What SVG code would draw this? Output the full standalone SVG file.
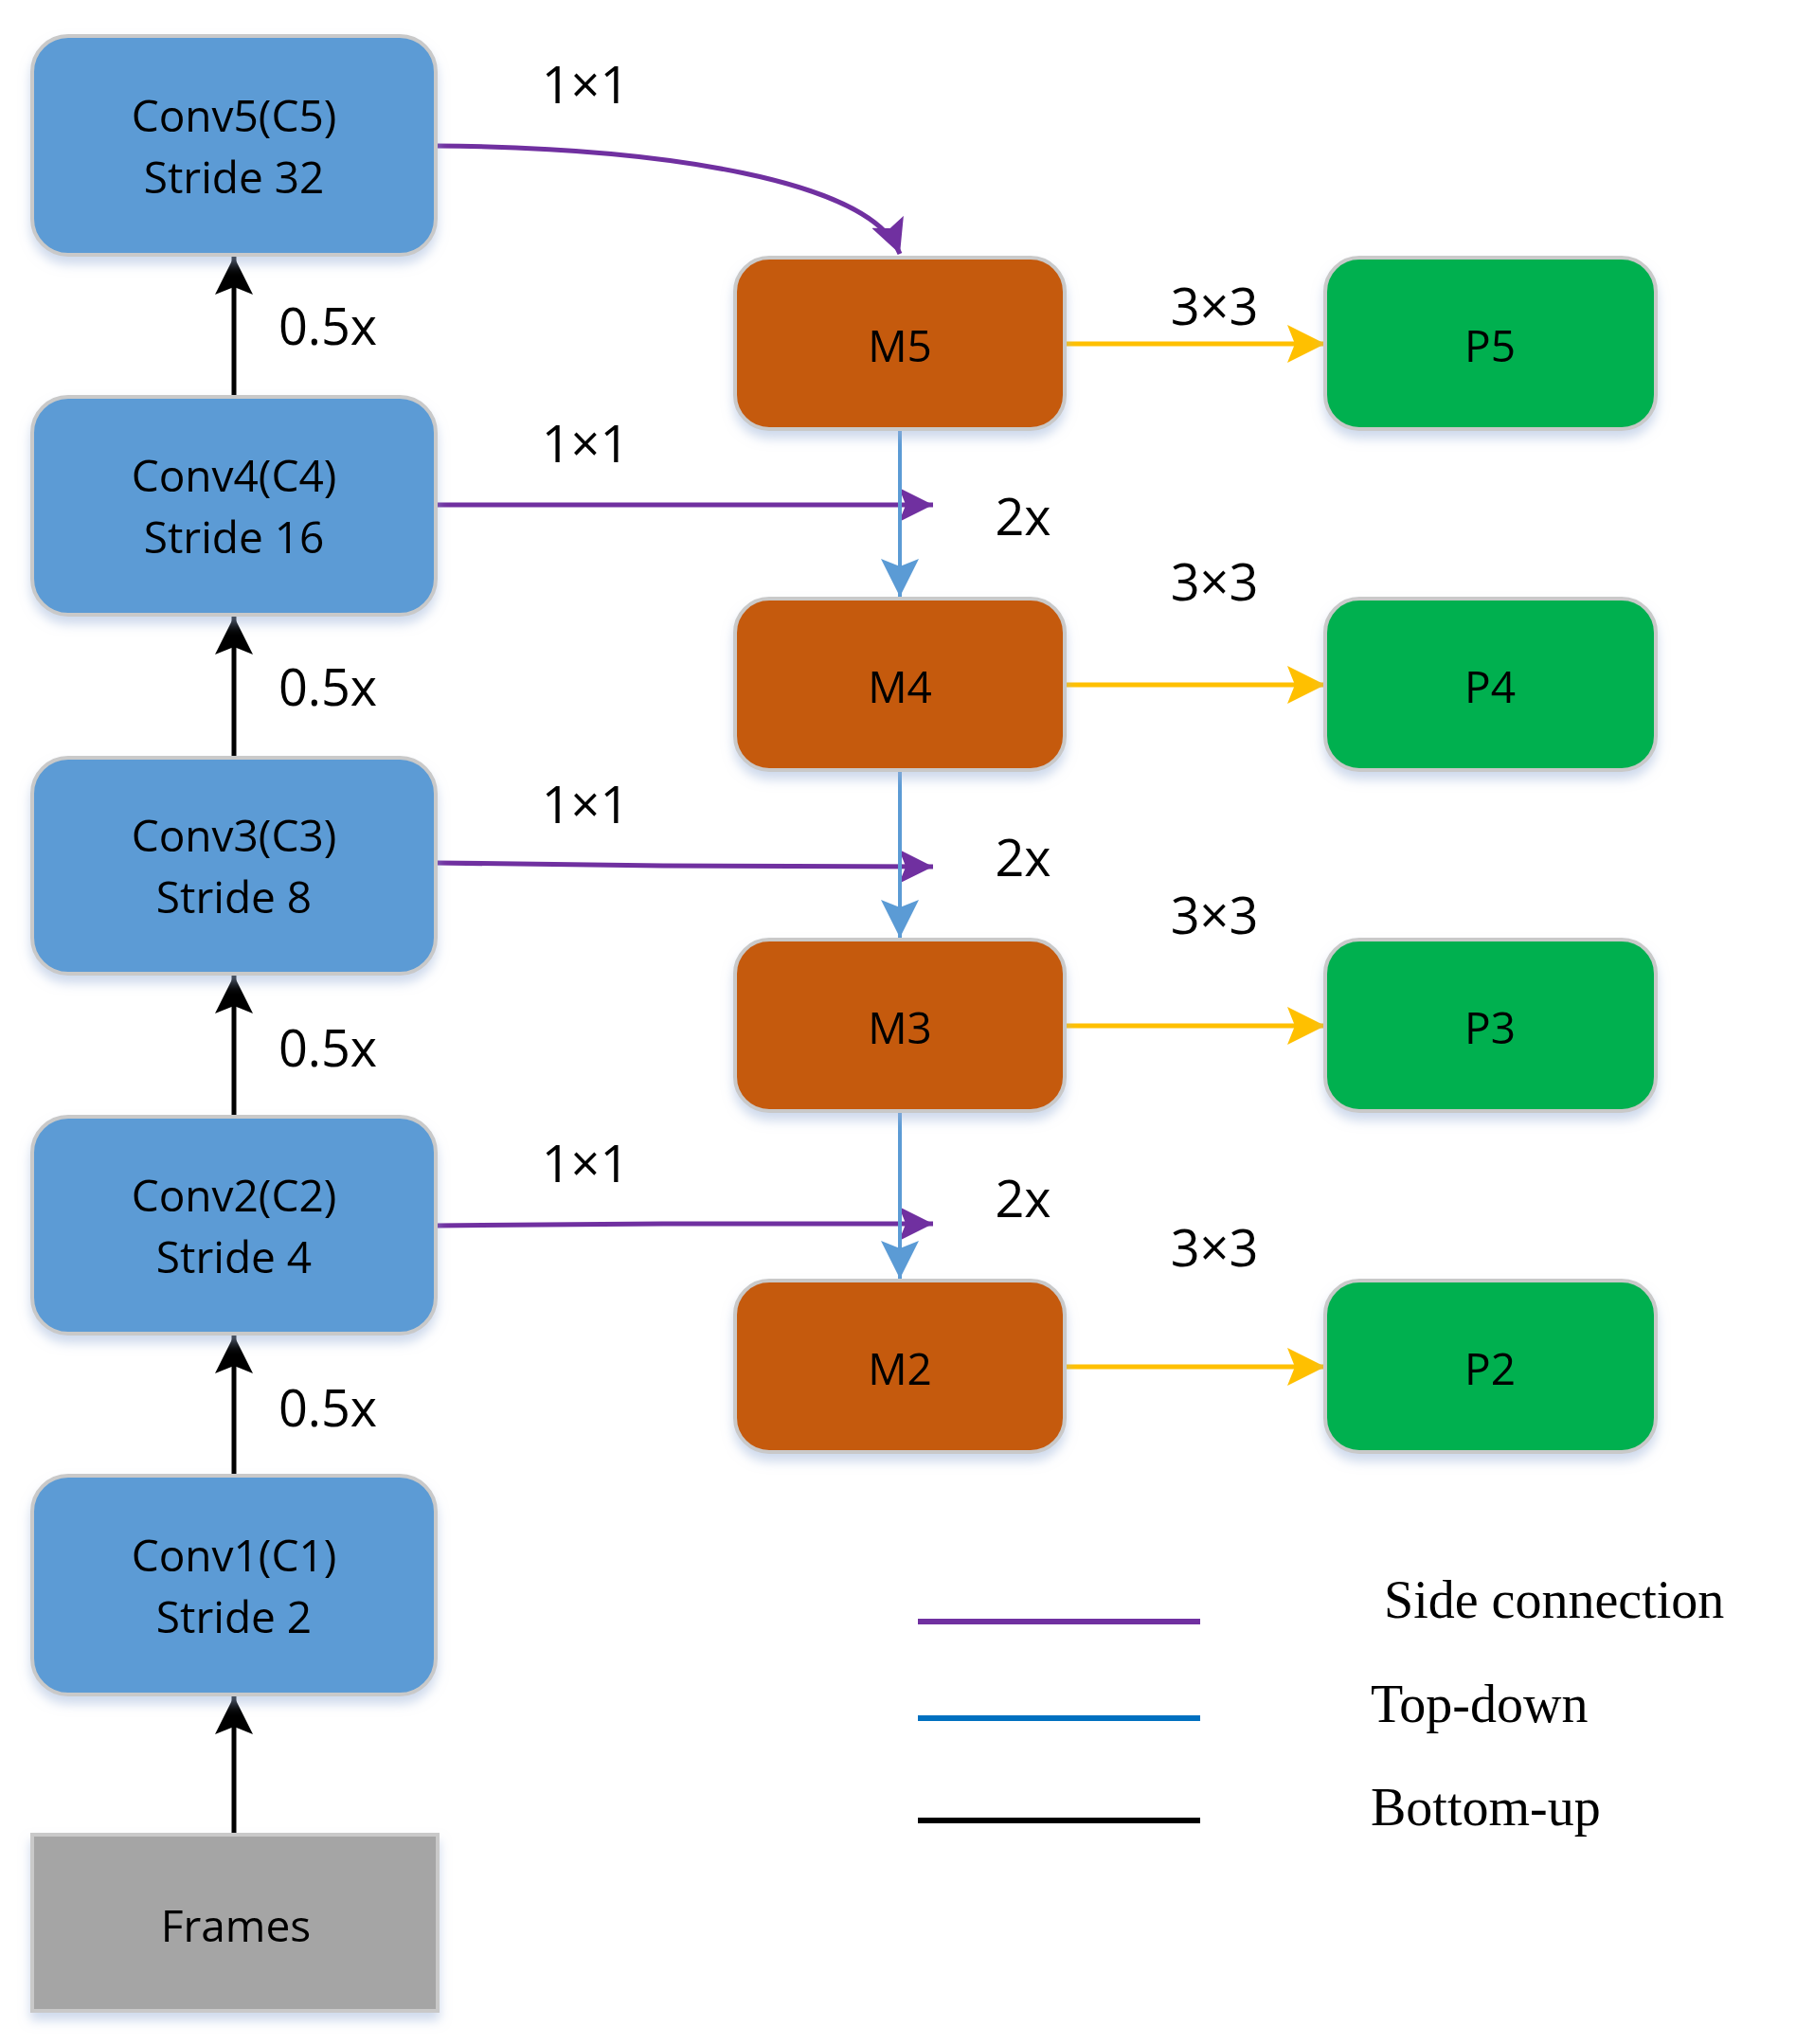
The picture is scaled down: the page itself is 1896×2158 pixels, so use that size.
<svg xmlns="http://www.w3.org/2000/svg" width="1896" height="2158" viewBox="0 0 1896 2158">
<style>
.t{font-family:"Open Sans","Liberation Sans",sans-serif;font-size:46px;fill:#000;text-anchor:middle;dominant-baseline:central}
.lb{font-family:"Open Sans","Liberation Sans",sans-serif;font-size:54px;fill:#000;text-anchor:middle;dominant-baseline:central}
.lg{font-family:"Liberation Serif",serif;font-size:56px;fill:#000;dominant-baseline:central}
.c{fill:#5B9BD5;stroke:#C9C9C9;stroke-width:4}
.m{fill:#C55A11;stroke:#C9C9C9;stroke-width:4}
.p{fill:#00B050;stroke:#C9C9C9;stroke-width:4}
</style>
<defs>
<filter id="sh" x="-10%" y="-10%" width="120%" height="130%"><feDropShadow dx="0" dy="8" stdDeviation="6" flood-color="#9DB3D9" flood-opacity="0.5"/></filter>
<marker id="ab" markerWidth="10" markerHeight="10" refX="9" refY="5" orient="auto" markerUnits="userSpaceOnUse" viewBox="0 0 10 10"><path d="M0,0 L10,5 L0,10 z" fill="#000"/></marker>
<marker id="ap" viewBox="0 0 10 10" refX="10" refY="5" markerWidth="36" markerHeight="36" orient="auto" markerUnits="userSpaceOnUse"><path d="M0,0 L10,5 L0,10 L2,5 z" fill="#7030A0"/></marker>
<marker id="ak" viewBox="0 0 10 10" refX="10" refY="5" markerWidth="40" markerHeight="40" orient="auto" markerUnits="userSpaceOnUse"><path d="M0,0 L10,5 L0,10 L2,5 z" fill="#000"/></marker>
<marker id="au" viewBox="0 0 10 10" refX="10" refY="5" markerWidth="40" markerHeight="40" orient="auto" markerUnits="userSpaceOnUse"><path d="M0,0 L10,5 L0,10 L2,5 z" fill="#5B9BD5"/></marker>
<marker id="ay" viewBox="0 0 10 10" refX="10" refY="5" markerWidth="40" markerHeight="40" orient="auto" markerUnits="userSpaceOnUse"><path d="M0,0 L10,5 L0,10 L2,5 z" fill="#FFC000"/></marker>
</defs>
<g id="connectors" fill="none">
<g stroke="#000" stroke-width="5" marker-end="url(#ak)">
<line x1="247" y1="419" x2="247" y2="271"/>
<line x1="247" y1="800" x2="247" y2="651"/>
<line x1="247" y1="1179" x2="247" y2="1030"/>
<line x1="247" y1="1558" x2="247" y2="1410"/>
<line x1="247" y1="1937" x2="247" y2="1791"/>
</g>
<g stroke="#7030A0" stroke-width="5" marker-end="url(#ap)">
<path d="M460,154 C700,156 920,190 950,268"/>
<line x1="460" y1="533" x2="985" y2="533"/>
<path d="M460,911 L700,914 L985,915"/>
<path d="M460,1294 L700,1292 L985,1292"/>
</g>
<g stroke="#5B9BD5" stroke-width="4" marker-end="url(#au)">
<line x1="950" y1="455" x2="950" y2="630"/>
<line x1="950" y1="815" x2="950" y2="990"/>
<line x1="950" y1="1175" x2="950" y2="1350"/>
</g>
<g stroke="#FFC000" stroke-width="5" marker-end="url(#ay)">
<line x1="1124" y1="363" x2="1399" y2="363"/>
<line x1="1124" y1="723" x2="1399" y2="723"/>
<line x1="1124" y1="1083" x2="1399" y2="1083"/>
<line x1="1124" y1="1443" x2="1399" y2="1443"/>
</g>
</g>
<g id="C5" filter="url(#sh)"><rect class="c" x="34" y="38" width="426" height="231" rx="38"/><text class="t" x="247" y="121">Conv5(C5)</text><text class="t" x="247" y="186">Stride 32</text></g>
<g id="C4" filter="url(#sh)"><rect class="c" x="34" y="419" width="426" height="230" rx="38"/><text class="t" x="247" y="501">Conv4(C4)</text><text class="t" x="247" y="566">Stride 16</text></g>
<g id="C3" filter="url(#sh)"><rect class="c" x="34" y="800" width="426" height="228" rx="38"/><text class="t" x="247" y="881">Conv3(C3)</text><text class="t" x="247" y="946">Stride 8</text></g>
<g id="C2" filter="url(#sh)"><rect class="c" x="34" y="1179" width="426" height="229" rx="38"/><text class="t" x="247" y="1261">Conv2(C2)</text><text class="t" x="247" y="1326">Stride 4</text></g>
<g id="C1" filter="url(#sh)"><rect class="c" x="34" y="1558" width="426" height="231" rx="38"/><text class="t" x="247" y="1641">Conv1(C1)</text><text class="t" x="247" y="1706">Stride 2</text></g>
<g id="Frames" filter="url(#sh)"><rect x="34" y="1937" width="428" height="186" fill="#A5A5A5" stroke="#C9C9C9" stroke-width="4"/><text class="t" x="249" y="2032">Frames</text></g>
<g id="M5" filter="url(#sh)"><rect class="m" x="776" y="272" width="348" height="181" rx="36"/><text class="t" x="950" y="364">M5</text></g>
<g id="M4" filter="url(#sh)"><rect class="m" x="776" y="632" width="348" height="181" rx="36"/><text class="t" x="950" y="724">M4</text></g>
<g id="M3" filter="url(#sh)"><rect class="m" x="776" y="992" width="348" height="181" rx="36"/><text class="t" x="950" y="1084">M3</text></g>
<g id="M2" filter="url(#sh)"><rect class="m" x="776" y="1352" width="348" height="181" rx="36"/><text class="t" x="950" y="1444">M2</text></g>
<g id="P5" filter="url(#sh)"><rect class="p" x="1399" y="272" width="349" height="181" rx="36"/><text class="t" x="1573" y="364">P5</text></g>
<g id="P4" filter="url(#sh)"><rect class="p" x="1399" y="632" width="349" height="181" rx="36"/><text class="t" x="1573" y="724">P4</text></g>
<g id="P3" filter="url(#sh)"><rect class="p" x="1399" y="992" width="349" height="181" rx="36"/><text class="t" x="1573" y="1084">P3</text></g>
<g id="P2" filter="url(#sh)"><rect class="p" x="1399" y="1352" width="349" height="181" rx="36"/><text class="t" x="1573" y="1444">P2</text></g>
<g id="labels">
<text class="lb" x="618" y="88">1×1</text><text class="lb" x="618" y="467">1×1</text><text class="lb" x="618" y="848">1×1</text><text class="lb" x="618" y="1227">1×1</text>
<text class="lb" x="1282" y="322">3×3</text><text class="lb" x="1282" y="613">3×3</text><text class="lb" x="1282" y="965">3×3</text><text class="lb" x="1282" y="1316">3×3</text>
<text class="lb" x="1080" y="544">2x</text><text class="lb" x="1080" y="904">2x</text><text class="lb" x="1080" y="1264">2x</text>
<text class="lb" x="346" y="343">0.5x</text><text class="lb" x="346" y="724">0.5x</text><text class="lb" x="346" y="1105">0.5x</text><text class="lb" x="346" y="1485">0.5x</text>
</g>
<g id="legend">
<line x1="969" y1="1712" x2="1267" y2="1712" stroke="#7030A0" stroke-width="6"/>
<line x1="969" y1="1814" x2="1267" y2="1814" stroke="#0070C0" stroke-width="6"/>
<line x1="969" y1="1922" x2="1267" y2="1922" stroke="#000" stroke-width="6"/>
<text class="lg" x="1461" y="1689">Side connection</text>
<text class="lg" x="1447" y="1799">Top-down</text>
<text class="lg" x="1447" y="1908">Bottom-up</text>
</g>
</svg>
